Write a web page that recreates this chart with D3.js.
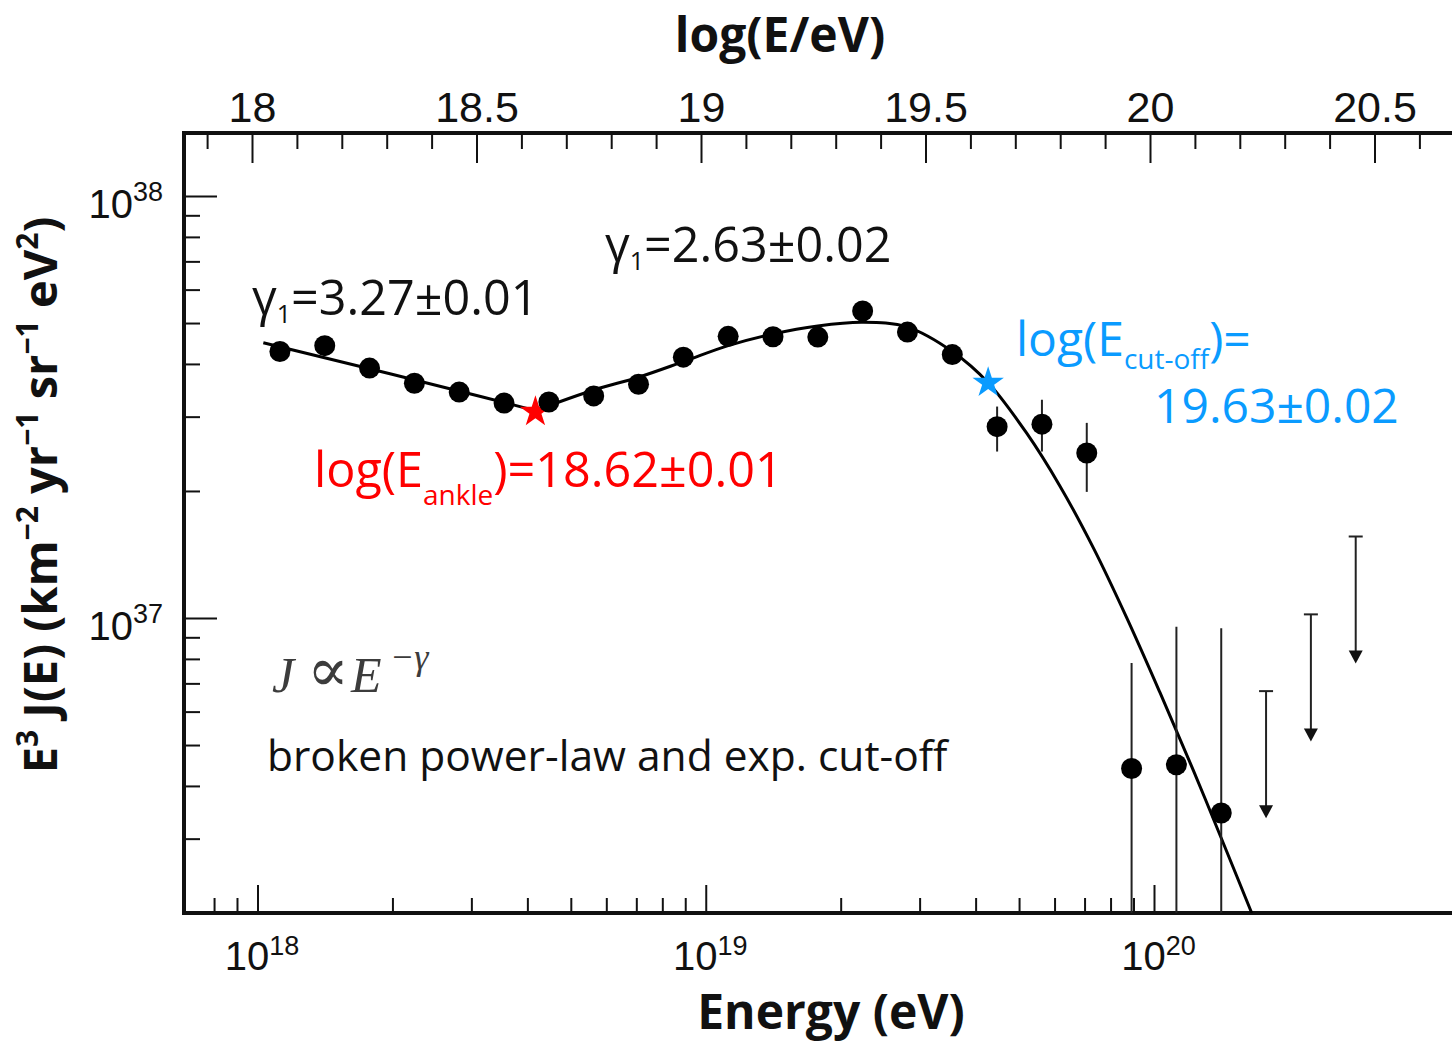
<!DOCTYPE html>
<html>
<head>
<meta charset="utf-8">
<script src="https://cdnjs.cloudflare.com/ajax/libs/d3/7.8.5/d3.min.js"></script>
<style>
body { margin: 0; background: #fff; }
svg { display: block; font-family: "Open Sans", sans-serif; }
</style>
</head>
<body>
<svg id="chart" width="1452" height="1042"></svg>
<script>
// measured bins, log10(E/eV), and E^3 J in units of 1e37
var logE = [18.05, 18.15, 18.25, 18.35, 18.45, 18.55, 18.65, 18.75, 18.85, 18.95, 19.05,
            19.15, 19.25, 19.35, 19.45, 19.55, 19.65, 19.75, 19.85, 19.95, 20.05, 20.15];
var flux = [4.28, 4.42, 3.91, 3.60, 3.43, 3.23, 3.25, 3.36, 3.58, 4.15, 4.65,
            4.64, 4.63, 5.34, 4.76, 4.21, 2.84, 2.88, 2.46, 0.440, 0.449, 0.345];
var errLow  = [null, null, null, null, null, null, null, null, null, null, null,
               null, null, null, null, null, 2.48, 2.48, 1.99, 0.05, 0.05, 0.05];
var errHigh = [null, null, null, null, null, null, null, null, null, null, null,
               null, null, null, null, null, 3.17, 3.29, 2.90, 0.782, 0.953, 0.946];

// upper limits
var ulLogE = [20.25, 20.35, 20.45];
var ulFlux = [0.671, 1.02, 1.56];

// fit: broken power-law + exp. cut-off
var fitLogE = [18.013, 18.30, 18.50, 18.62, 18.75, 18.85, 18.95, 19.05, 19.15, 19.25, 19.35,
               19.45, 19.55, 19.63, 19.716, 19.79, 19.865, 19.939, 20.013, 20.088, 20.162, 20.218];
var fitFlux = [4.49, 3.78, 3.345, 3.10, 3.47, 3.72, 4.05, 4.42, 4.71, 4.92, 5.02,
               4.89, 4.28, 3.61, 2.741, 2.056, 1.464, 1.002, 0.667, 0.435, 0.280, 0.200];

// break markers
var ankle = { logE: 18.62, flux: 3.08 };
var cutoff = { logE: 19.63, flux: 3.61 };

// axis ticks
var bottomMajor = [1e18, 1e19, 1e20];
var bottomExp = ["18", "19", "20"];
var bottomMinor = [8e17, 9e17, 2e18, 3e18, 4e18, 5e18, 6e18, 7e18, 8e18, 9e18,
                   2e19, 3e19, 4e19, 5e19, 6e19, 7e19, 8e19, 9e19];
var topMajor = [18, 18.5, 19, 19.5, 20, 20.5];
var topMinor = [17.9, 18.1, 18.2, 18.3, 18.4, 18.6, 18.7, 18.8, 18.9, 19.1, 19.2, 19.3, 19.4,
                19.6, 19.7, 19.8, 19.9, 20.1, 20.2, 20.3, 20.4, 20.6];
var leftMajor = [1e37, 1e38];
var leftExp = ["37", "38"];
var leftMinor = [3e36, 4e36, 5e36, 6e36, 7e36, 8e36, 9e36,
                 2e37, 3e37, 4e37, 5e37, 6e37, 7e37, 8e37, 9e37];

var svg = d3.select("#chart");
var pLeft = 184, pTop = 133, pBottom = 913, pRight = 1460;

var x = d3.scaleLog().domain([1e18, 1e20]).range([257.5, 1154]);
var xTop = d3.scaleLinear().domain([18, 20]).range([252, 1150]);
var y = d3.scaleLog().domain([1e37, 1e38]).range([618, 196]);

var ex = function(l) { return x(Math.pow(10, l)); };
var ey = function(v) { return y(v * 1e37); };

// text with sub/superscripts
var rich = function(sel, parts, size) {
    var cur = 0;
    parts.forEach(function(p) {
        var off = p.off !== undefined ? p.off : 0;
        sel.append("tspan")
            .attr("font-size", p.fs || size)
            .attr("dy", off - cur)
            .text(p.t);
        cur = off;
    });
};

svg.append("defs").append("clipPath").attr("id", "plot")
    .append("rect").attr("x", pLeft).attr("y", pTop)
    .attr("width", pRight - pLeft).attr("height", pBottom - pTop);

var styleTicks = function(g) {
    g.select(".domain").remove();
    g.selectAll(".tick line").attr("stroke", "#111").attr("stroke-width", 2);
    g.selectAll(".tick text").remove();
};

// bottom axis
svg.append("g").attr("transform", "translate(0," + pBottom + ")")
    .call(d3.axisBottom(x).tickValues(bottomMinor).tickSize(-15))
    .call(styleTicks);
var bMaj = svg.append("g").attr("transform", "translate(0," + pBottom + ")")
    .call(d3.axisBottom(x).tickValues(bottomMajor).tickSize(-28))
    .call(styleTicks);
bMaj.selectAll(".tick").append("text")
    .attr("y", 57).attr("x", 4)
    .attr("text-anchor", "middle").attr("fill", "#111")
    .each(function(d, i) {
        rich(d3.select(this), [{ t: "10" }, { t: bottomExp[i], fs: 27, off: -15 }], 40);
    });

// top axis
svg.append("g").attr("transform", "translate(0," + pTop + ")")
    .call(d3.axisTop(xTop).tickValues(topMinor).tickSize(-16))
    .call(styleTicks);
var tMaj = svg.append("g").attr("transform", "translate(0," + pTop + ")")
    .call(d3.axisTop(xTop).tickValues(topMajor).tickSize(-30))
    .call(styleTicks);
tMaj.selectAll(".tick").append("text")
    .attr("y", -11).attr("text-anchor", "middle")
    .attr("fill", "#111").attr("font-size", 43)
    .text(function(d) { return d; });

// left axis
svg.append("g").attr("transform", "translate(" + pLeft + ",0)")
    .call(d3.axisLeft(y).tickValues(leftMinor).tickSize(-16))
    .call(styleTicks);
var lMaj = svg.append("g").attr("transform", "translate(" + pLeft + ",0)")
    .call(d3.axisLeft(y).tickValues(leftMajor).tickSize(-33))
    .call(styleTicks);
lMaj.selectAll(".tick").append("text")
    .attr("x", -21).attr("y", 21)
    .attr("text-anchor", "end").attr("fill", "#111")
    .each(function(d, i) {
        rich(d3.select(this), [{ t: "10" }, { t: leftExp[i], fs: 27, off: -17 }], 40);
    });

// frame
var frame = svg.append("g").attr("stroke", "#111").attr("stroke-width", 4).attr("stroke-linecap", "square");
frame.append("line").attr("x1", pLeft).attr("x2", pRight).attr("y1", pTop).attr("y2", pTop);
frame.append("line").attr("x1", pLeft).attr("x2", pRight).attr("y1", pBottom).attr("y2", pBottom);
frame.append("line").attr("x1", pLeft).attr("x2", pLeft).attr("y1", pTop).attr("y2", pBottom);

var plot = svg.append("g").attr("clip-path", "url(#plot)");

// fit curve: straight below the ankle, smooth above
var fit = fitLogE.map(function(l, i) { return [ex(l), ey(fitFlux[i])]; });
plot.append("path")
    .attr("d", d3.line()(fit.slice(0, 4)))
    .attr("fill", "none").attr("stroke", "#000").attr("stroke-width", 3);
plot.append("path")
    .attr("d", d3.line().curve(d3.curveCatmullRom.alpha(0.5))(fit.slice(3)))
    .attr("fill", "none").attr("stroke", "#000").attr("stroke-width", 3);

// error bars
logE.forEach(function(l, i) {
    if (errLow[i] === null) return;
    plot.append("line")
        .attr("x1", ex(l)).attr("x2", ex(l))
        .attr("y1", ey(errHigh[i])).attr("y2", ey(errLow[i]))
        .attr("stroke", "#222").attr("stroke-width", 2);
});

// upper limits
ulLogE.forEach(function(l, i) {
    var cx = ex(l), y0 = ey(ulFlux[i]), y1 = ey(ulFlux[i] / 2);
    plot.append("line").attr("x1", cx - 7).attr("x2", cx + 7).attr("y1", y0).attr("y2", y0)
        .attr("stroke", "#222").attr("stroke-width", 2);
    plot.append("line").attr("x1", cx).attr("x2", cx).attr("y1", y0).attr("y2", y1 - 10)
        .attr("stroke", "#222").attr("stroke-width", 2);
    plot.append("path")
        .attr("d", "M" + (cx - 7) + "," + (y1 - 13) + "L" + (cx + 7) + "," + (y1 - 13) + "L" + cx + "," + y1 + "Z")
        .attr("fill", "#111");
});

// break stars
var star = d3.symbol().type(d3.symbolStar).size(306);
plot.append("path").attr("d", star)
    .attr("transform", "translate(" + ex(ankle.logE) + "," + ey(ankle.flux) + ")")
    .attr("fill", "#ff0000");
plot.append("path").attr("d", star)
    .attr("transform", "translate(" + ex(cutoff.logE) + "," + ey(cutoff.flux) + ")")
    .attr("fill", "#0a9bff");

// data points
plot.selectAll("circle.pt")
    .data(logE)
    .enter()
    .append("circle")
    .attr("class", "pt")
    .attr("cx", function(d) { return ex(d); })
    .attr("cy", function(d, i) { return ey(flux[i]); })
    .attr("r", 10.5)
    .attr("fill", "#000");

// annotations
var t1 = svg.append("text").attr("x", 252).attr("y", 315).attr("fill", "#111");
rich(t1, [{ t: "γ" }, { t: "1", fs: 25, off: 8 }, { t: "=3.27±0.01" }], 48.5);
var t2 = svg.append("text").attr("x", 605).attr("y", 262).attr("fill", "#111");
rich(t2, [{ t: "γ" }, { t: "1", fs: 25, off: 8 }, { t: "=2.63±0.02" }], 48.5);

var t3 = svg.append("text").attr("x", 314).attr("y", 487).attr("fill", "#ff0000");
rich(t3, [{ t: "log(E" }, { t: "ankle", fs: 28, off: 18 }, { t: ")=18.62±0.01" }], 48.5);

var t4 = svg.append("text").attr("x", 1016).attr("y", 356).attr("fill", "#0a9bff");
rich(t4, [{ t: "log(E" }, { t: "cut-off", fs: 28, off: 13 }, { t: ")=" }], 48);
svg.append("text").attr("x", 1154).attr("y", 423).attr("fill", "#0a9bff")
    .attr("font-size", 48).text("19.63±0.02");

// J ∝ E^-γ
var law = svg.append("g").attr("fill", "#3c3c3c")
    .attr("font-family", "'Liberation Serif', 'DejaVu Serif', serif").attr("font-size", 50);
law.append("text").attr("x", 272).attr("y", 692).attr("font-style", "italic").text("J");
law.append("text").attr("x", 307).attr("y", 691).attr("font-size", 62).text("∝");
law.append("text").attr("x", 351).attr("y", 692).attr("font-style", "italic").text("E");
law.append("text").attr("x", 390).attr("y", 669).attr("font-size", 36).attr("font-style", "italic").text("−γ");

svg.append("text").attr("x", 267).attr("y", 771).attr("fill", "#111")
    .attr("font-size", 42.5).text("broken power-law and exp. cut-off");

// axis titles
svg.append("text").attr("x", 780).attr("y", 52).attr("text-anchor", "middle")
    .attr("font-weight", "bold").attr("font-size", 48).attr("fill", "#111").text("log(E/eV)");
svg.append("text").attr("x", 831).attr("y", 1029).attr("text-anchor", "middle")
    .attr("font-weight", "bold").attr("font-size", 48).attr("fill", "#111").text("Energy (eV)");

var yt = svg.append("text").attr("transform", "translate(57,495) rotate(-90)")
    .attr("text-anchor", "middle").attr("font-weight", "bold").attr("fill", "#111");
rich(yt, [{ t: "E" }, { t: "3", fs: 30, off: -19 }, { t: " J(E) (km" }, { t: "−2", fs: 30, off: -19 },
          { t: " yr" }, { t: "−1", fs: 30, off: -19 }, { t: " sr" }, { t: "−1", fs: 30, off: -19 },
          { t: " eV" }, { t: "2", fs: 30, off: -19 }, { t: ")" }], 47);
</script>
</body>
</html>
